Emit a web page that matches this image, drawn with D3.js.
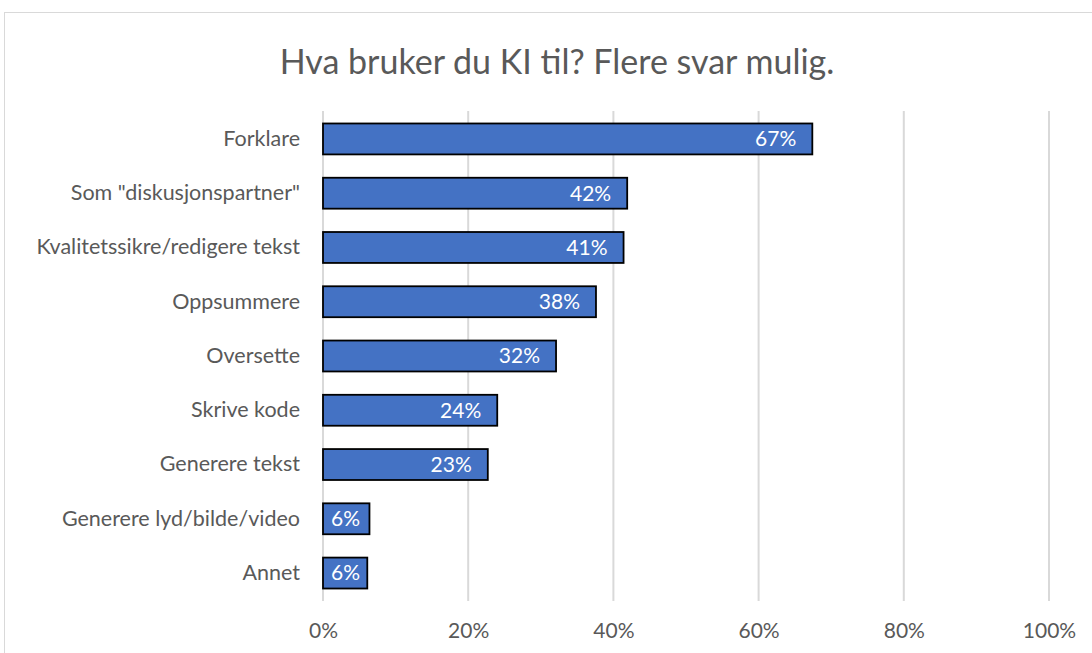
<!DOCTYPE html>
<html>
<head>
<meta charset="utf-8">
<script src="https://cdn.jsdelivr.net/npm/d3@7"></script>
<style>
  body { margin: 0; background: #fff; }
  svg text { font-family: Lato, "Open Sans", sans-serif; }
</style>
</head>
<body>
<svg width="1092" height="653"></svg>
<script>
const categories = [
  "Forklare",
  "Som \"diskusjonspartner\"",
  "Kvalitetssikre/redigere tekst",
  "Oppsummere",
  "Oversette",
  "Skrive kode",
  "Generere tekst",
  "Generere lyd/bilde/video",
  "Annet"
];
const values = [67.4, 41.9, 41.4, 37.6, 32.1, 24.0, 22.7, 6.4, 6.1];
const ticks = [0, 20, 40, 60, 80, 100];
const title = "Hva bruker du KI til? Flere svar mulig.";

const svg = d3.select("svg");

// chart frame, runs off the right and bottom like the screenshot
svg.append("rect")
  .attr("x", 4.5).attr("y", 12.5)
  .attr("width", 1200).attr("height", 800)
  .attr("fill", "none").attr("stroke", "#d9d9d9");

const x = d3.scaleLinear().domain([0, 100]).range([323, 1049]);
const y = d3.scaleBand().domain(categories).range([111, 601])
  .paddingInner(0.43).paddingOuter(0.23);

svg.append("text")
  .attr("x", 557).attr("y", 74)
  .attr("text-anchor", "middle")
  .attr("fill", "#595959")
  .style("font-size", "34px")
  .text(title);

// gridlines
svg.append("g")
  .selectAll("line")
  .data(ticks)
  .join("line")
  .attr("x1", (d) => x(d)).attr("x2", (d) => x(d))
  .attr("y1", 111).attr("y2", 601)
  .attr("stroke", "#d9d9d9").attr("stroke-width", 2);

// x axis labels
const xAxis = svg.append("g")
  .attr("transform", "translate(0,601)")
  .call(d3.axisBottom(x).tickValues(ticks).tickFormat((d) => d + "%").tickSize(0).tickPadding(22));
xAxis.select(".domain").remove();
xAxis.selectAll("text")
  .attr("fill", "#595959")
  .style("font-size", "21px")
  .style("font-family", "Lato, sans-serif");

// category labels
const yAxis = svg.append("g")
  .attr("transform", "translate(300,0)")
  .call(d3.axisLeft(y).tickSize(0).tickPadding(0));
yAxis.select(".domain").remove();
yAxis.selectAll("text")
  .attr("fill", "#595959")
  .style("font-size", "21.5px")
  .style("font-family", "Lato, sans-serif");

// bars
svg.append("g")
  .selectAll("rect")
  .data(values)
  .join("rect")
  .attr("x", x(0))
  .attr("y", (d, i) => y(categories[i]))
  .attr("width", (d) => x(d) - x(0))
  .attr("height", y.bandwidth())
  .attr("fill", "#4472c4")
  .attr("stroke", "#000")
  .attr("stroke-width", 1.8);

// value labels, inside end; short bars get them pushed to the start
svg.append("g")
  .selectAll("text")
  .data(values)
  .join("text")
  .attr("y", (d, i) => y(categories[i]) + y.bandwidth() / 2)
  .attr("dy", "0.35em")
  .attr("fill", "#fff")
  .style("font-size", "21px")
  .text((d) => Math.round(d) + "%")
  .each(function (d) {
    const w = this.getComputedTextLength();
    const t = d3.select(this);
    if (x(d) - 16 - w < x(0) + 8) {
      t.attr("x", x(0) + 8).attr("text-anchor", "start");
    } else {
      t.attr("x", x(d) - 16).attr("text-anchor", "end");
    }
  });
</script>
</body>
</html>
